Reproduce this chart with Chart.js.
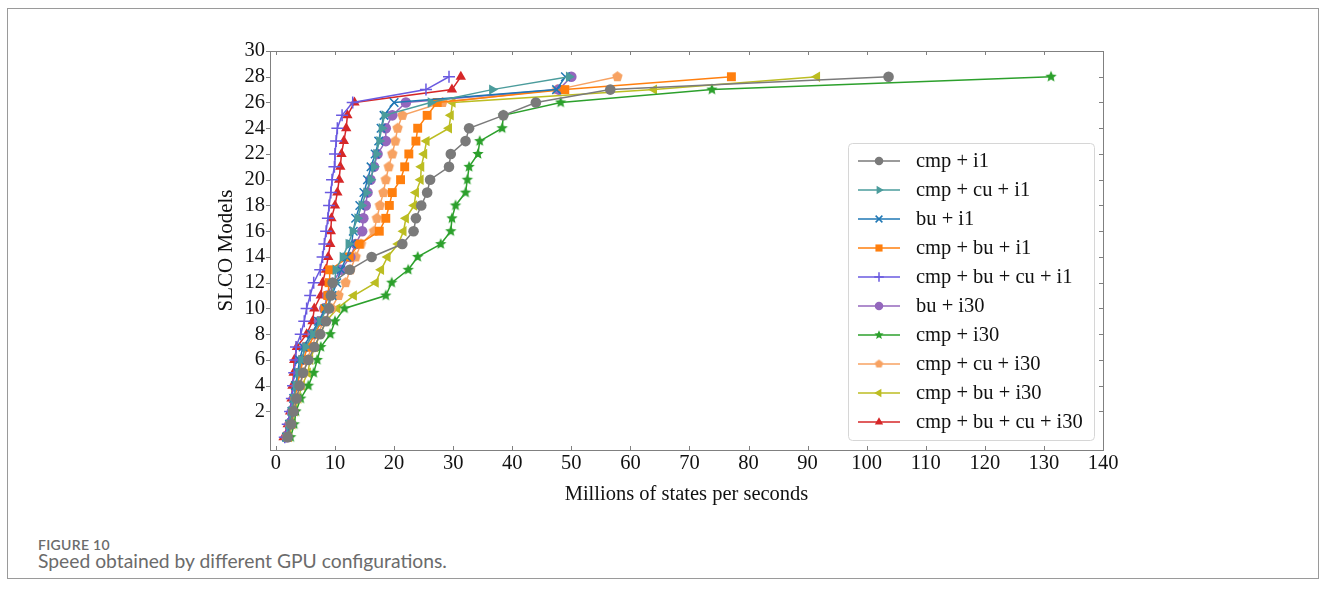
<!DOCTYPE html>
<html>
<head>
<meta charset="utf-8">
<script src="https://cdn.jsdelivr.net/npm/chart.js@4.4.1/dist/chart.umd.min.js"></script>
<style>
  html, body { margin: 0; padding: 0; background: #fff; }
  body { width: 1328px; height: 593px; position: relative; overflow: hidden; }
  .frame { position: absolute; left: 7px; top: 8px; width: 1312px; height: 571px; border: 1px solid #9a9a9a; box-sizing: border-box; }
  #wrap { position: absolute; left: 0; top: 0; width: 1328px; height: 530px; }
  .cap-num { position: absolute; left: 38px; top: 536px; font: 600 14px Lato, "Open Sans", sans-serif; color: #6b6b6b; letter-spacing: .3px; }
  .cap-txt { position: absolute; left: 38px; top: 549px; font: 19.3px Lato, "Open Sans", sans-serif; color: #6b6b6b; }
</style>
</head>
<body>
<div class="frame"></div>
<div id="wrap"><canvas id="c"></canvas></div>
<div class="cap-num">FIGURE 10</div>
<div class="cap-txt">Speed obtained by different GPU configurations.</div>
<script>
// SLCO model index (y) vs. throughput in millions of states per second (x)
const models = [0,1,2,3,4,5,6,7,8,9,10,11,12,13,14,15,16,17,18,19,20,21,22,23,24,25,26,27,28];
const xTicks = [0,10,20,30,40,50,60,70,80,90,100,110,120,130,140];
const yTicks = [2,4,6,8,10,12,14,16,18,20,22,24,26,28,30];

const cmpI1       = [2.0,2.6,3.0,3.5,4.0,4.6,5.5,6.5,7.5,8.5,9.0,9.3,9.6,12.5,16.2,21.4,23.3,23.7,24.6,25.6,26.1,29.3,29.6,32.1,32.7,38.5,44.0,56.6,103.7];
const cmpCuI1     = [1.7,2.2,2.6,3.0,3.4,3.8,4.3,5.0,6.3,7.5,8.6,9.4,10.0,10.1,11.3,12.3,13.0,13.8,14.5,15.3,16.0,16.6,17.0,17.5,17.9,18.4,26.2,36.6,49.6];
const buI1        = [1.8,2.3,2.7,3.0,3.3,3.7,4.0,4.6,6.0,7.2,8.5,9.5,10.3,11.0,12.0,12.8,13.1,13.5,14.2,14.9,15.5,16.1,16.8,17.4,17.8,18.3,20.0,47.5,49.0];
const cmpBuI1     = [1.9,2.4,2.8,3.2,3.6,4.1,4.6,5.4,6.6,7.7,8.3,8.8,9.0,9.1,12.4,14.1,17.5,18.6,19.2,19.7,21.1,21.8,22.5,23.7,24.0,25.6,27.3,48.9,77.1];
const cmpBuCuI1   = [1.5,2.0,2.4,2.7,2.9,3.1,3.3,3.4,4.2,4.8,5.2,5.8,6.4,7.5,7.9,8.2,8.5,8.8,9.0,9.3,9.5,9.9,10.0,10.2,10.4,11.2,13.0,25.4,29.3];
const buI30       = [1.8,2.3,2.7,3.1,3.5,3.9,4.4,5.0,6.2,7.3,8.2,8.7,9.6,11.0,12.6,13.5,14.6,14.8,15.2,15.5,16.0,16.6,17.2,18.6,18.6,19.7,22.0,47.9,50.0];
const cmpI30      = [2.5,3.1,3.4,4.2,5.5,6.4,7.0,7.6,9.2,10.0,11.6,18.6,19.6,22.4,24.0,27.9,29.6,29.8,30.4,32.1,32.4,32.7,34.2,34.5,38.3,38.5,48.2,73.8,131.2];
const cmpCuI30    = [2.0,2.6,3.1,3.6,4.1,4.7,5.3,6.0,7.0,8.2,9.4,10.6,11.8,12.6,13.5,14.4,16.6,17.1,17.6,18.2,18.6,19.1,19.7,20.2,20.6,21.4,28.2,47.6,57.8];
const cmpBuI30    = [2.2,2.8,3.2,3.8,4.4,5.4,5.8,6.6,7.5,8.5,10.4,13.2,16.9,17.8,18.9,20.7,21.6,22.0,23.4,23.7,24.5,24.6,25.1,25.5,29.3,29.6,29.9,64.0,91.6];
const cmpBuCuI30  = [1.3,2.0,2.4,2.65,2.8,3.0,3.1,3.55,5.2,6.2,6.5,7.6,7.9,8.45,8.85,9.2,9.3,9.4,10.0,10.4,10.7,10.9,11.1,11.5,11.9,12.1,13.3,29.8,31.3];

const series = [
  { label: 'cmp + i1',            data: cmpI1,      color: '#7a7a7a', style: 'circle',   r: 5.3 },
  { label: 'cmp + cu + i1',       data: cmpCuI1,    color: '#4b9c9c', style: 'triangle', r: 6, rot: 90 },
  { label: 'bu + i1',             data: buI1,       color: '#1f77b4', style: 'crossRot', r: 6 },
  { label: 'cmp + bu + i1',       data: cmpBuI1,    color: '#ff7f0e', style: 'rect',     r: 6.3 },
  { label: 'cmp + bu + cu + i1',  data: cmpBuCuI1,  color: '#6a5ae0', style: 'cross',    r: 6 },
  { label: 'bu + i30',            data: buI30,      color: '#9467bd', style: 'circle',   r: 5.3 },
  { label: 'cmp + i30',           data: cmpI30,     color: '#2ca02c', style: 'star',     r: 6 },
  { label: 'cmp + cu + i30',      data: cmpCuI30,   color: '#f7a262', style: 'pentagon', r: 5.5 },
  { label: 'cmp + bu + i30',      data: cmpBuI30,   color: '#bcbd22', style: 'triangle', r: 6, rot: -90 },
  { label: 'cmp + bu + cu + i30', data: cmpBuCuI30, color: '#d62728', style: 'triangle', r: 6 }
];

const SERIF = '"Liberation Serif", "DejaVu Serif", serif';

// frame ticks (inward on top/right/bottom, outward on left) + spines
const framePlugin = {
  id: 'frame',
  afterDraw(chart) {
    const { ctx, chartArea: a, scales: { x, y } } = chart;
    ctx.save();
    ctx.strokeStyle = '#808080';
    ctx.lineWidth = 1;
    ctx.strokeRect(a.left + .5, a.top + .5, a.right - a.left, a.bottom - a.top);
    ctx.beginPath();
    xTicks.forEach(v => {
      const px = Math.round(x.getPixelForValue(v)) + .5;
      ctx.moveTo(px, a.bottom); ctx.lineTo(px, a.bottom - 4);
      ctx.moveTo(px, a.top); ctx.lineTo(px, a.top + 4);
    });
    yTicks.forEach(v => {
      const py = Math.round(y.getPixelForValue(v)) + .5;
      ctx.moveTo(a.left, py); ctx.lineTo(a.left - 4, py);
      ctx.moveTo(a.right, py); ctx.lineTo(a.right - 4, py);
    });
    ctx.stroke();
    ctx.restore();
  }
};

// legend box inside the plot (lower right)
const legendPlugin = {
  id: 'boxLegend',
  afterDraw(chart) {
    const { ctx } = chart;
    const bx = 848, by = 143, bw = 246, bh = 297;
    ctx.save();
    ctx.fillStyle = 'rgba(255,255,255,0.85)';
    ctx.strokeStyle = '#d6d6d6';
    ctx.lineWidth = 1;
    ctx.beginPath();
    ctx.roundRect(bx + .5, by + .5, bw, bh, 4);
    ctx.fill(); ctx.stroke();
    ctx.font = '20.5px ' + SERIF;
    ctx.textBaseline = 'middle';
    chart.data.datasets.forEach((ds, i) => {
      const cy = by + 18 + i * 29;
      ctx.strokeStyle = ds.borderColor;
      ctx.lineWidth = 1.5;
      ctx.beginPath(); ctx.moveTo(858, cy); ctx.lineTo(900, cy); ctx.stroke();
      ctx.fillStyle = ds.pointBackgroundColor;
      ctx.strokeStyle = ds.pointBorderColor;
      const ps = ds.legendStyle || ds.pointStyle;
      Chart.helpers.drawPoint(ctx, { pointStyle: ps, rotation: ds.pointRotation, radius: ds.pointRadius * 0.8, borderWidth: ds.pointBorderWidth }, 879, cy);
      ctx.fillStyle = '#111';
      ctx.fillText(ds.label, 916, cy + 1);
    });
    ctx.restore();
  }
};

// polygon markers (star, pentagon) drawn on small canvases
function polyCanvas(color, r, n, inner) {
  const c = document.createElement('canvas');
  const s = Math.ceil(r * 2 + 2);
  c.width = s; c.height = s;
  const g = c.getContext('2d');
  g.fillStyle = color;
  g.beginPath();
  const k0 = inner ? n * 2 : n;
  for (let k = 0; k < k0; k++) {
    const rad = inner && k % 2 ? r * inner : r;
    const ang = -Math.PI / 2 + k * 2 * Math.PI / k0;
    const px = s / 2 + rad * Math.cos(ang), py = s / 2 + rad * Math.sin(ang);
    k ? g.lineTo(px, py) : g.moveTo(px, py);
  }
  g.closePath(); g.fill();
  return c;
}

function markerFor(s, scale) {
  if (s.style === 'star') return polyCanvas(s.color, s.r * scale, 5, 0.45);
  if (s.style === 'pentagon') return polyCanvas(s.color, s.r * scale, 5, 0);
  return s.style;
}

const datasets = series.map(s => ({
  label: s.label,
  data: models.map((m, i) => ({ x: s.data[i], y: m })),
  borderColor: s.color,
  backgroundColor: s.color,
  pointBackgroundColor: s.color,
  pointBorderColor: s.color,
  pointBorderWidth: (s.style === 'cross' || s.style === 'crossRot') ? 1.5 : 0,
  pointStyle: markerFor(s, 1),
  legendStyle: markerFor(s, 0.8),
  pointRotation: s.rot || 0,
  pointRadius: s.r,
  borderWidth: 1.5,
  tension: 0,
  fill: false
}));

new Chart(document.getElementById('c'), {
  type: 'line',
  data: { datasets },
  options: {
    responsive: true, maintainAspectRatio: false,
    animation: false,
    layout: { padding: { left: 210, right: 225, top: 51, bottom: 20 } },
    plugins: { legend: { display: false }, tooltip: { enabled: false } },
    scales: {
      x: {
        type: 'linear', min: -1, max: 140,
        afterFit: s => { s.height = 60; },
        afterBuildTicks: s => { s.ticks = xTicks.map(v => ({ value: v })); },
        grid: { display: false, drawTicks: false }, border: { display: false },
        ticks: { color: '#111', font: { family: SERIF, size: 20.5 }, padding: 1, maxRotation: 0, autoSkip: false },
        title: { display: true, text: 'Millions of states per seconds', color: '#111', font: { family: SERIF, size: 20.5 }, padding: { top: 4, bottom: 3 } }
      },
      y: {
        type: 'linear', min: -1, max: 30,
        afterFit: s => { s.width = 60; },
        afterBuildTicks: s => { s.ticks = yTicks.map(v => ({ value: v })); },
        grid: { display: false, drawTicks: false }, border: { display: false },
        ticks: { color: '#111', font: { family: SERIF, size: 20.5 }, padding: 5, autoSkip: false },
        title: { display: true, text: 'SLCO Models', color: '#111', font: { family: SERIF, size: 21 }, padding: { top: 4, bottom: 0 } }
      }
    }
  },
  plugins: [framePlugin, legendPlugin]
});
</script>
</body>
</html>
